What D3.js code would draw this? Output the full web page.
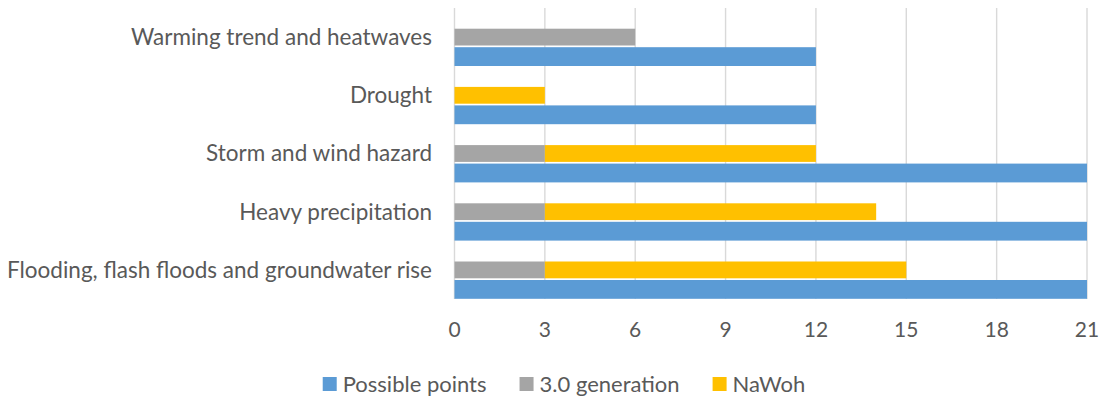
<!DOCTYPE html>
<html>
<head>
<meta charset="utf-8">
<script src="https://cdn.jsdelivr.net/npm/d3@7"></script>
<style>
  html, body { margin: 0; padding: 0; background: #fff; }
  svg { display: block; }
  text { font-family: Lato, "Open Sans", sans-serif; fill: #595959; }
</style>
</head>
<body>
<svg id="chart" width="1105" height="397"></svg>
<script>
// ---- data ----
const categories = [
  "Warming trend and heatwaves",
  "Drought",
  "Storm and wind hazard",
  "Heavy precipitation",
  "Flooding, flash floods and groundwater rise"
];
const possiblePoints = [12, 12, 21, 21, 21];
const generation30 = [6, 0, 3, 3, 3];
const nawoh = [0, 3, 9, 11, 12];
const xTicks = [0, 3, 6, 9, 12, 15, 18, 21];
const seriesNames = ["Possible points", "3.0 generation", "NaWoh"];
const seriesColors = ["#5B9BD5", "#A5A5A5", "#FFC000"];

// ---- layout ----
const svg = d3.select("#chart");
const plot = { left: 454.5, right: 1087, top: 8, bottom: 299 };

const x = d3.scaleLinear().domain([0, 21]).range([plot.left, plot.right]);
const y = d3.scaleBand().domain(categories).range([plot.top, plot.bottom]).padding(0);
const slot = d3.scaleBand().domain(["empty", "stack", "possible"]).range([0, y.bandwidth()]).padding(0);

// gridlines
svg.append("g").selectAll("line").data(xTicks).join("line")
  .attr("x1", d => x(d)).attr("x2", d => x(d))
  .attr("y1", plot.top).attr("y2", plot.bottom)
  .attr("stroke", "#d9d9d9").attr("stroke-width", 1.4);

// stacked bars (3.0 generation + NaWoh)
const stackRows = categories.map((c, i) => ({ cat: c, gen: generation30[i], naw: nawoh[i], pos: possiblePoints[i] }));
const stack = d3.stack().keys(["gen", "naw"])(stackRows);

svg.append("g").selectAll("g").data(stack).join("g")
  .attr("fill", (d, i) => seriesColors[i + 1])
  .selectAll("rect").data(d => d.filter(s => s[1] - s[0] > 0)).join("rect")
  .attr("x", d => x(d[0]))
  .attr("width", d => x(d[1]) - x(d[0]))
  .attr("y", d => y(d.data.cat) + slot("stack") + 1.3)
  .attr("height", slot.bandwidth() - 2.6);

// possible points bars
svg.append("g").selectAll("rect").data(stackRows).join("rect")
  .attr("fill", seriesColors[0])
  .attr("x", x(0))
  .attr("width", d => x(d.pos) - x(0))
  .attr("y", d => y(d.cat) + slot("possible") + 0.4)
  .attr("height", slot.bandwidth() - 0.6);

// category labels
svg.append("g").selectAll("text").data(categories).join("text")
  .attr("x", 432)
  .attr("y", d => y(d) + y.bandwidth() / 2)
  .attr("dy", "0.35em")
  .attr("text-anchor", "end")
  .style("font-size", "22.5px")
  .text(d => d);

// x tick labels
svg.append("g").selectAll("text").data(xTicks).join("text")
  .attr("x", d => x(d))
  .attr("y", 330)
  .attr("dy", "0.35em")
  .attr("text-anchor", "middle")
  .style("font-size", "21px")
  .text(d => d);

// legend
const legend = svg.append("g");
const items = legend.selectAll("g").data(seriesNames).join("g");
items.append("rect").attr("width", 14).attr("height", 14).attr("y", 377)
  .attr("fill", (d, i) => seriesColors[i]);
items.append("text").attr("x", 20).attr("y", 384).attr("dy", "0.35em")
  .style("font-size", "22px").text(d => d);
let widths = [];
items.each(function () { widths.push(20 + d3.select(this).select("text").node().getComputedTextLength()); });
const gap = 33;
const total = d3.sum(widths) + gap * (widths.length - 1);
let cx = 564 - total / 2;
items.attr("transform", (d, i) => { const t = `translate(${cx},0)`; cx += widths[i] + gap; return t; });
</script>
</body>
</html>
